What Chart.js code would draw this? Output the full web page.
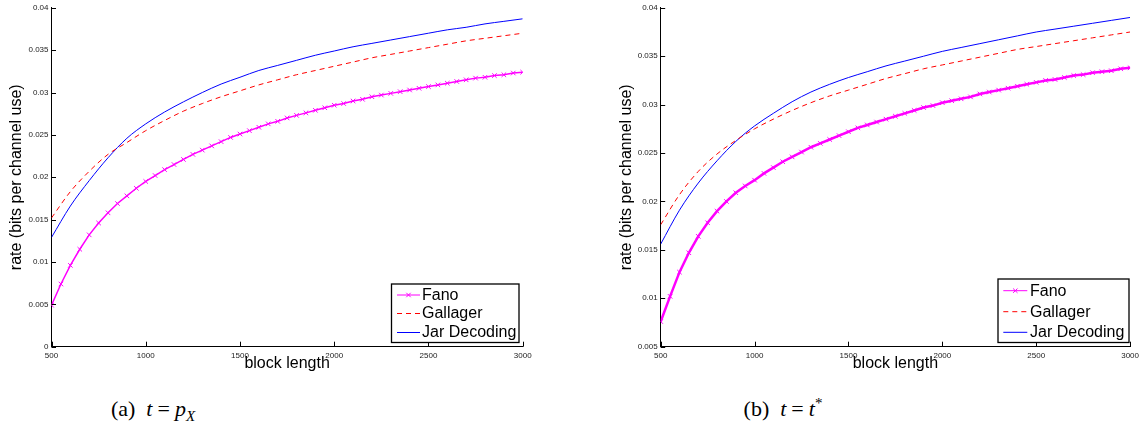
<!DOCTYPE html>
<html>
<head>
<meta charset="utf-8">
<script src="https://cdn.jsdelivr.net/npm/chart.js@4.4.1/dist/chart.umd.min.js"></script>
<style>
  html, body { margin: 0; padding: 0; background: #fff; }
  body { width: 1143px; height: 435px; position: relative; overflow: hidden; }
  canvas { position: absolute; top: 0; }
  #rateA { left: 0; }
  #rateB { left: 600px; }
  .cap {
    position: absolute; top: 396px; transform: translateX(-50%);
    font-family: "Liberation Serif", "DejaVu Serif", serif; font-size: 22px; color: #000;
    white-space: nowrap;
  }
  .cap i { font-style: italic; }
  .cap .eq { margin: 0 5px; }
  .cap sub { font-size: 15px; vertical-align: -5px; line-height: 0; }
  .cap sup { font-size: 15px; vertical-align: 8px; line-height: 0; }
</style>
</head>
<body>
<canvas id="rateA" width="560" height="380"></canvas>
<canvas id="rateB" width="543" height="380"></canvas>
<div class="cap" style="left:153px">(a)&nbsp; <i>t</i><span class="eq">=</span><i>p<sub>X</sub></i></div>
<div class="cap" style="left:783px">(b)&nbsp; <i>t</i><span class="eq">=</span><i>t</i><sup>*</sup></div>

<script>
// Block lengths at which the Fano rate was evaluated
const fanoLengths = [500, 550, 600, 650, 700, 750, 800, 850, 900, 950,
  1000, 1050, 1100, 1150, 1200, 1250, 1300, 1350, 1400, 1450,
  1500, 1550, 1600, 1650, 1700, 1750, 1800, 1850, 1900, 1950,
  2000, 2050, 2100, 2150, 2200, 2250, 2300, 2350, 2400, 2450,
  2500, 2550, 2600, 2650, 2700, 2750, 2800, 2850, 2900, 2950, 3000];

// Block lengths for the Gallager and jar-decoding bounds
const boundLengths = [500, 600, 700, 800, 900, 1000, 1100, 1200, 1300, 1400,
  1500, 1600, 1700, 1800, 1900, 2000, 2100, 2200, 2300, 2400,
  2500, 2600, 2700, 2800, 2900, 3000];

// (a) t = p_X
const fanoA = [0.0049, 0.0074, 0.0096, 0.0115, 0.0132, 0.0146, 0.0158, 0.0169, 0.0178, 0.0187,
  0.0195, 0.0202, 0.0209, 0.0215, 0.0221, 0.0227, 0.0232, 0.0237, 0.0242, 0.0247,
  0.0251, 0.0255, 0.0259, 0.0263, 0.0266, 0.0270, 0.0273, 0.0276, 0.0279, 0.0282,
  0.0285, 0.0287, 0.0290, 0.0292, 0.0295, 0.0297, 0.0299, 0.0301, 0.0303, 0.0305,
  0.0307, 0.0309, 0.0311, 0.0313, 0.0315, 0.0317, 0.0318, 0.0320, 0.0321, 0.0323, 0.0324];
const gallagerA = [0.0152, 0.0183, 0.0207, 0.0227, 0.0241, 0.0255, 0.0267, 0.0278, 0.0287, 0.0295,
  0.0302, 0.0309, 0.0315, 0.0321, 0.0326, 0.0331, 0.0336, 0.0341, 0.0345, 0.0349,
  0.0353, 0.0357, 0.0361, 0.0364, 0.0367, 0.0370];
const jarA = [0.0129, 0.0166, 0.0196, 0.0223, 0.0246, 0.0263, 0.0277, 0.0289, 0.0300, 0.0310,
  0.0318, 0.0326, 0.0332, 0.0338, 0.0344, 0.0349, 0.0354, 0.0358, 0.0362, 0.0366,
  0.0370, 0.0374, 0.0377, 0.0381, 0.0384, 0.0387];

// (b) t = t*
const fanoB = [0.0076, 0.0102, 0.0127, 0.0147, 0.0164, 0.0178, 0.0190, 0.0200, 0.0209, 0.0216,
  0.0222, 0.0229, 0.0235, 0.0241, 0.0246, 0.0251, 0.0256, 0.0260, 0.0264, 0.0268,
  0.0272, 0.0276, 0.0279, 0.0282, 0.0285, 0.0288, 0.0291, 0.0294, 0.0297, 0.0299,
  0.0302, 0.0304, 0.0306, 0.0308, 0.0311, 0.0313, 0.0315, 0.0317, 0.0319, 0.0321,
  0.0323, 0.0325, 0.0326, 0.0328, 0.0330, 0.0331, 0.0333, 0.0334, 0.0335, 0.0337, 0.0338];
const gallagerB = [0.0176, 0.0207, 0.0231, 0.0249, 0.0263, 0.0275, 0.0285, 0.0294, 0.0302, 0.0309,
  0.0315, 0.0321, 0.0327, 0.0332, 0.0337, 0.0341, 0.0345, 0.0349, 0.0353, 0.0357,
  0.0360, 0.0363, 0.0366, 0.0369, 0.0372, 0.0375];
const jarB = [0.0156, 0.0191, 0.0219, 0.0242, 0.0262, 0.0278, 0.0291, 0.0303, 0.0313, 0.0321,
  0.0328, 0.0334, 0.0340, 0.0345, 0.0350, 0.0355, 0.0359, 0.0363, 0.0367, 0.0371,
  0.0375, 0.0378, 0.0381, 0.0384, 0.0387, 0.0390];

const seriesNames = ['Fano', 'Gallager', 'Jar Decoding'];
const xTickValues = [500, 1000, 1500, 2000, 2500, 3000];
const yTickValuesA = [0, 0.005, 0.01, 0.015, 0.02, 0.025, 0.03, 0.035, 0.04];
const yTickValuesB = [0.005, 0.01, 0.015, 0.02, 0.025, 0.03, 0.035, 0.04];
const xTitle = 'block length';
const yTitle = 'rate (bits per channel use)';

const SANS = '"Liberation Sans", Arial, Helvetica, sans-serif';

// Short tick marks pointing into the plot, like a plain axes frame
const inwardTicks = {
  id: 'inwardTicks',
  afterDatasetsDraw(chart) {
    const { ctx, chartArea: a, scales: { x, y } } = chart;
    ctx.save();
    ctx.strokeStyle = '#000';
    ctx.lineWidth = 1;
    ctx.beginPath();
    x.ticks.forEach(t => {
      const px = Math.round(x.getPixelForValue(t.value)) + 0.5;
      ctx.moveTo(px, a.bottom); ctx.lineTo(px, a.bottom - 5);
    });
    y.ticks.forEach(t => {
      const py = Math.round(y.getPixelForValue(t.value)) + 0.5;
      ctx.moveTo(a.left, py); ctx.lineTo(a.left + 4.5, py);
    });
    ctx.stroke();
    ctx.restore();
  }
};

// Framed legend placed inside the lower right corner of the plot
const boxLegend = {
  id: 'boxLegend',
  afterDraw(chart, args, o) {
    const ctx = chart.ctx;
    ctx.save();
    ctx.fillStyle = '#fff';
    ctx.fillRect(o.x, o.y, o.w, o.h);
    ctx.strokeStyle = '#000';
    ctx.lineWidth = 1.3;
    ctx.strokeRect(o.x, o.y, o.w, o.h);
    ctx.font = '16px ' + SANS;
    ctx.textBaseline = 'middle';
    ctx.textAlign = 'left';
    chart.data.datasets.forEach((ds, i) => {
      const ry = o.rows[i];
      ctx.strokeStyle = ds.borderColor;
      ctx.lineWidth = 1;
      ctx.setLineDash(ds.borderDash || []);
      ctx.beginPath();
      ctx.moveTo(o.s0, ry); ctx.lineTo(o.s1, ry);
      ctx.stroke();
      ctx.setLineDash([]);
      if (ds.pointRadius > 0) {
        const mx = (o.s0 + o.s1) / 2, r = 2.2;
        ctx.beginPath();
        ctx.moveTo(mx - r, ry - r); ctx.lineTo(mx + r, ry + r);
        ctx.moveTo(mx - r, ry + r); ctx.lineTo(mx + r, ry - r);
        ctx.stroke();
      }
      ctx.fillStyle = '#000';
      ctx.fillText(ds.label, o.tx, ry + 0.5);
    });
    ctx.restore();
  }
};

function pairs(xs, ys) {
  return xs.map((v, i) => ({ x: v, y: ys[i] }));
}

function makeRateChart(id, fano, gallager, jar, yTicks, yMin, frame, legend) {
  return new Chart(document.getElementById(id), {
    type: 'line',
    data: {
      datasets: [
        {
          label: seriesNames[0], data: pairs(fanoLengths, fano),
          borderColor: '#ff00ff', backgroundColor: '#ff00ff', borderWidth: frame.fanoWidth,
          pointStyle: 'crossRot', pointRadius: 3.2, pointBorderWidth: 1,
          pointBorderColor: '#ff00ff', tension: 0
        },
        {
          label: seriesNames[1], data: pairs(boundLengths, gallager),
          borderColor: '#ff0000', borderWidth: 1, borderDash: [5, 4],
          pointRadius: 0, cubicInterpolationMode: 'monotone'
        },
        {
          label: seriesNames[2], data: pairs(boundLengths, jar),
          borderColor: '#0000ff', borderWidth: 1,
          pointRadius: 0, cubicInterpolationMode: 'monotone'
        }
      ]
    },
    options: {
      responsive: false,
      maintainAspectRatio: false,
      devicePixelRatio: 1,
      animation: false,
      layout: { padding: { left: 0, top: 7, right: frame.padRight, bottom: 0 } },
      plugins: {
        legend: { display: false },
        tooltip: { enabled: false },
        boxLegend: legend
      },
      scales: {
        x: {
          type: 'linear', min: 500, max: 3000,
          afterBuildTicks: s => { s.ticks = xTickValues.map(v => ({ value: v })); },
          afterFit: s => { s.height = frame.xAxisH; },
          grid: { display: false, drawTicks: false },
          border: { display: true, color: '#000', width: 1 },
          ticks: {
            padding: 4, maxRotation: 0, autoSkip: false, color: '#222',
            font: { family: SANS, size: 8 }, callback: v => String(v)
          },
          title: {
            display: true, text: xTitle, color: '#000',
            font: { family: SANS, size: 16 }, padding: { top: 0, bottom: 6.4 }
          }
        },
        y: {
          type: 'linear', min: yMin, max: 0.04,
          afterBuildTicks: s => { s.ticks = yTicks.map(v => ({ value: v })); },
          afterFit: s => { s.width = frame.yAxisW; },
          grid: { display: false, drawTicks: false },
          border: { display: true, color: '#000', width: 1 },
          ticks: {
            padding: 3, autoSkip: false, color: '#222',
            font: { family: SANS, size: 8 }, callback: v => String(v)
          },
          title: {
            display: true, text: yTitle, color: '#000',
            font: { family: SANS, size: 16 }, padding: { top: frame.yTitlePad, bottom: 0 }
          }
        }
      }
    },
    plugins: [inwardTicks, boxLegend]
  });
}

makeRateChart('rateA', fanoA, gallagerA, jarA, yTickValuesA, 0,
  { padRight: 37.3, xAxisH: 33.3, yAxisW: 51.5, yTitlePad: 7.4, fanoWidth: 1.5 },
  { x: 391.5, y: 284, w: 127.5, h: 58.5, rows: [295, 313.5, 332.5], s0: 397, s1: 420, tx: 422 });

makeRateChart('rateB', fanoB, gallagerB, jarB, yTickValuesB, 0.005,
  { padRight: 11.5, xAxisH: 33.3, yAxisW: 60.7, yTitlePad: 17.4, fanoWidth: 2.5 },
  { x: 398, y: 279, w: 131, h: 63.5, rows: [290.7, 311.7, 332.3], s0: 403.3, s1: 427.3, tx: 430 });
</script>
</body>
</html>
